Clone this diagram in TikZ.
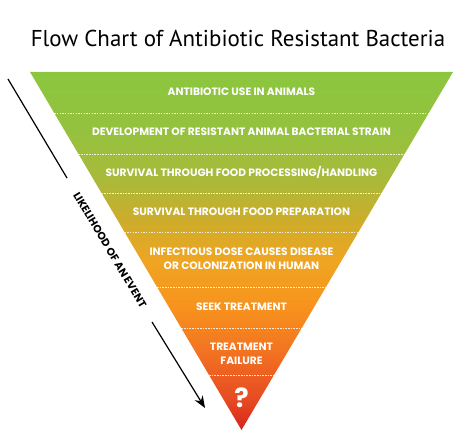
\documentclass[tikz,border=0pt]{standalone}
\usepackage{fontspec}
\setmainfont{PT Sans}
\newfontfamily\bandfont{Poppins}
\usetikzlibrary{calc,arrows.meta}

\definecolor{fgreen}{HTML}{8CC63F}
\definecolor{fgreenb}{HTML}{94C23E}
\definecolor{folive}{HTML}{AAB93A}
\definecolor{fgold}{HTML}{CDAD2B}
\definecolor{fyellow}{HTML}{EFA522}
\definecolor{forange}{HTML}{F7941D}
\definecolor{fdorange}{HTML}{F37421}
\definecolor{fred}{HTML}{E64A22}
\definecolor{fdred}{HTML}{D7251E}

\pgfdeclareverticalshading{funnel}{100bp}{%
  color(0bp)=(fdred); color(25bp)=(fdred);
  color(29.2bp)=(fred); color(36.2bp)=(fdorange);
  color(42.5bp)=(forange); color(48.7bp)=(fyellow);
  color(54.3bp)=(fgold); color(59.9bp)=(folive);
  color(66.9bp)=(fgreenb); color(75bp)=(fgreen); color(100bp)=(fgreen)}

\tikzset{
  band/.style={text=white, align=center,
    font=\bandfont\bfseries\fontsize{8}{10.5}\selectfont},
  sep/.style={white, opacity=0.8, line width=0.5pt, dash pattern=on 1.2pt off 0.8pt},
  side/.style={font=\bandfont\bfseries\fontsize{8}{9}\selectfont}
}

\begin{document}
\begin{tikzpicture}[x=0.75pt,y=-0.75pt]
    \useasboundingbox (0,0) rectangle (474,431);
    % the funnel
    \coordinate (tl) at (30,72);
    \coordinate (tr) at (453,72);
    \coordinate (ap) at (241.5,430);
    \shade[shading=funnel] (tl) -- (tr) -- (ap) -- cycle;
    \foreach \y in {113,154,193,232,287,328,375}
        \draw[sep] ($(tl)!{(\y-72)/358}!(ap)$) -- ($(tr)!{(\y-72)/358}!(ap)$);

    \node (t0) at (238,38) {\fontsize{17.2}{20}\selectfont Flow Chart of Antibiotic Resistant Bacteria};

    \node[band] (b1) at (241.5,92) {ANTIBIOTIC USE IN ANIMALS};
    \node[band] (b2) at (241.5,132) {DEVELOPMENT OF RESISTANT ANIMAL BACTERIAL STRAIN};
    \node[band] (b3) at (241.5,172) {SURVIVAL THROUGH FOOD PROCESSING/HANDLING};
    \node[band] (b4) at (241.5,212) {SURVIVAL THROUGH FOOD PREPARATION};
    \node[band] (b5) at (241.5,259) {INFECTIOUS DOSE CAUSES DISEASE\\OR COLONIZATION IN HUMAN};
    \node[band] (b6) at (241.5,307) {SEEK TREATMENT};
    \node[band] (b7) at (241.5,354) {TREATMENT\\FAILURE};
    \node[band] (b8) at (241.5,398) {\fontsize{20}{20}\selectfont ?};

    % likelihood arrow
    \coordinate (a0) at (8,79);
    \coordinate (a1) at (67,178);
    \coordinate (a2) at (152,322);
    \coordinate (a3) at (205,408);
    \node[side, rotate=-59.2] (lk) at (110,250) {LIKELIHOOD OF AN EVENT};
    \draw[line width=0.9pt] (a0) -- (a1);
    \draw[line width=0.9pt, -{Stealth[length=9pt,width=7pt]}] (a2) -- (a3);
\end{tikzpicture}
\end{document}
